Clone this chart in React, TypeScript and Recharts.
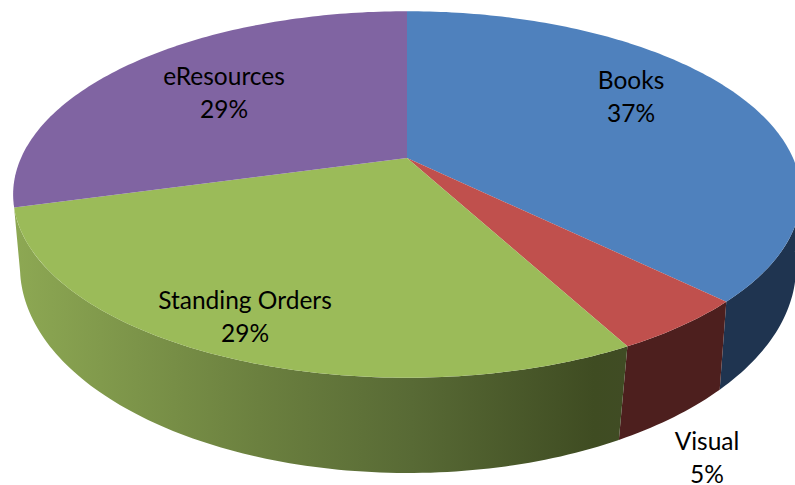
import React from 'react';
import { PieChart, Pie } from 'recharts';

const categories = ['Books', 'Visual', 'Standing Orders', 'eResources'];
const shares = [37.4, 4.8, 28.5, 29.3];

const faceColors = ['#4F81BD', '#C0504D', '#9BBB59', '#8064A2'];
const wallColors = ['#1F3450', '#4D1F1E', 'url(#greenWall)', '#4B3A60'];

const data = categories.map((name, i) => ({ name, value: shares[i] }));

// label centres (Excel places these itself)
const labelCentres: Record<string, [number, number]> = {
  Books: [631, 97],
  Visual: [707, 458],
  'Standing Orders': [245, 317],
  eResources: [224, 93],
};

// perspective of the top face and of the bottom rim
const TOP = { cx: 407, cy: 158, rx: 386, ry: 176, k: 0.199, shift: 0 };
const BOTTOM = { cx: 408, cy: 221.7, rx: 378.5, ry: 196, k: 0.22, shift: 1.5 };
const WALL_FROM = 97;
const WALL_TO = 254.5;

type Rim = typeof TOP;

function project(rim: Rim, clock: number) {
  const a = ((clock + rim.shift) * Math.PI) / 180;
  const X = Math.sin(a);
  const Y = -Math.cos(a);
  const w = 1 - rim.k * Y;
  return [rim.cx + (rim.rx * X) / w, rim.cy + (rim.ry * Y) / w];
}

function arc(rim: Rim, from: number, to: number) {
  const pts: number[][] = [];
  const n = Math.max(2, Math.ceil(Math.abs(to - from)));
  for (let i = 0; i <= n; i++) pts.push(project(rim, from + ((to - from) * i) / n));
  return pts;
}

const toPath = (pts: number[][]) =>
  'M' + pts.map((p) => `${p[0].toFixed(2)},${p[1].toFixed(2)}`).join('L') + 'Z';

// recharts hands over the angles, the slice is drawn on the tilted disc
function TiltedSlice(props: any) {
  const { startAngle, endAngle, index } = props;
  const from = 90 - startAngle;
  const to = 90 - endAngle;
  const wallStart = Math.max(from, WALL_FROM);
  const wallEnd = Math.min(to, WALL_TO);
  const face = [[TOP.cx, TOP.cy], ...arc(TOP, from, to)];
  return (
    <g>
      {wallEnd > wallStart && (
        <path
          d={toPath([...arc(TOP, wallStart, wallEnd), ...arc(BOTTOM, wallEnd, wallStart)])}
          fill={wallColors[index]}
        />
      )}
      <path d={toPath(face)} fill={faceColors[index]} />
    </g>
  );
}

function SliceLabel(props: any) {
  const { name, value } = props;
  const [x, y] = labelCentres[name];
  return (
    <text x={x} y={y} textAnchor="middle" fill="#000" fontFamily="Lato" fontSize={24.5}>
      <tspan x={x} dy={-8}>{name}</tspan>
      <tspan x={x} dy={33}>{Math.round(value)}%</tspan>
    </text>
  );
}

export default function App() {
  return (
    <div style={{ position: 'absolute', left: 0, top: 0, width: 795, height: 485, background: '#fff' }}>
      <PieChart width={795} height={485} margin={{ top: 0, right: 0, bottom: 0, left: 0 }}>
        <defs>
          <linearGradient id="greenWall" gradientUnits="userSpaceOnUse" x1={15} y1={0} x2={625} y2={0}>
            <stop offset="0%" stopColor="#8DA853" />
            <stop offset="40%" stopColor="#6B803F" />
            <stop offset="65%" stopColor="#586A35" />
            <stop offset="95%" stopColor="#3F4C22" />
            <stop offset="100%" stopColor="#404C24" />
          </linearGradient>
        </defs>
        <Pie
          data={data}
          dataKey="value"
          nameKey="name"
          cx={TOP.cx}
          cy={TOP.cy}
          innerRadius={0}
          outerRadius={TOP.ry}
          startAngle={90}
          endAngle={-270}
          paddingAngle={0}
          stroke="none"
          shape={TiltedSlice}
          label={SliceLabel}
          labelLine={false}
          isAnimationActive={false}
        />
      </PieChart>
    </div>
  );
}
